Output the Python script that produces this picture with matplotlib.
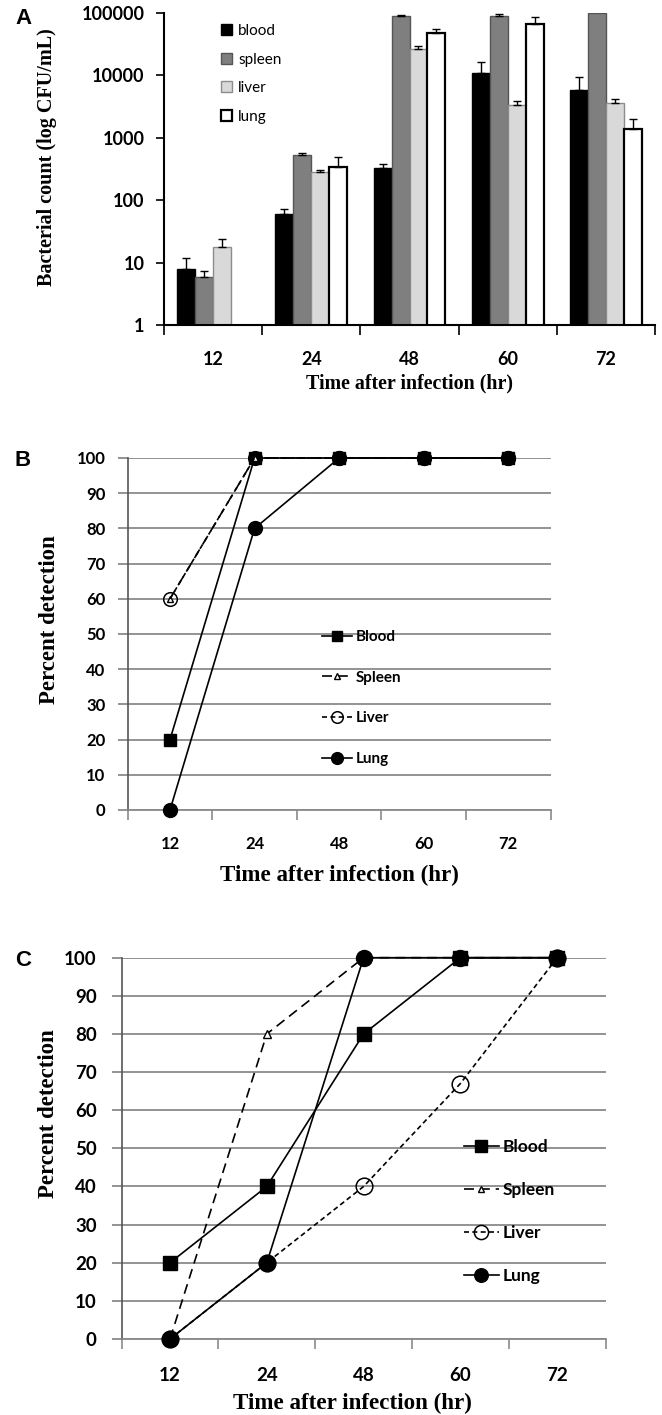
import numpy as np
import matplotlib
matplotlib.use("Agg")
import matplotlib.pyplot as plt
from matplotlib.ticker import FixedLocator, NullLocator, FuncFormatter, FixedFormatter, NullFormatter
from matplotlib.patches import Patch

hours = ["12", "24", "48", "60", "72"]

# panel A - bacterial count (CFU/mL), bar value and top of the error bar
blood_cfu = [7.8, 60, 334, 10900, 5750]
blood_top = [11.7, 72, 378, 16400, 9290]
spleen_cfu = [5.8, 527, 90600, 90600, 100000]
spleen_top = [7.4, 567, 91500, 96400, 100000]
liver_cfu = [18, 285, 26400, 3340, 3640]
liver_top = [23.7, 310, 29900, 3830, 4120]
lung_cfu = [np.nan, 338, 47800, 67400, 1394]
lung_top = [np.nan, 490, 54700, 86300, 2018]

# panel B - percent detection
b_blood = [20, 100, 100, 100, 100]
b_spleen = [60, 100, 100, 100, 100]
b_liver = [60, 100, 100, 100, 100]
b_lung = [0, 80, 100, 100, 100]

# panel C - percent detection
c_blood = [20, 40, 80, 100, 100]
c_spleen = [0, 80, 100, 100, 100]
c_liver = [0, 20, 40, 67, 100]
c_lung = [0, 20, 100, 100, 100]

SANS = "Lato"
SERIF = "Liberation Serif"
GRID = "#8a8a8a"

fig = plt.figure(figsize=(6.62, 14.15), dpi=100)
W, H = 662.0, 1415.0


def px_axes(left, top, right, bottom):
    return fig.add_axes([left / W, 1 - bottom / H, (right - left) / W, (bottom - top) / H])


def category_axis(ax, labelsize, pad, color):
    x = np.arange(len(hours))
    ax.set_xlim(-0.5, len(hours) - 0.5)
    ax.xaxis.set_major_locator(FixedLocator(np.arange(len(hours) + 1) - 0.5))
    ax.xaxis.set_major_formatter(NullFormatter())
    ax.xaxis.set_minor_locator(FixedLocator(x))
    ax.xaxis.set_minor_formatter(FixedFormatter(hours))
    ax.tick_params(axis="x", which="major", direction="out", length=7, width=1.2, color=color)
    ax.tick_params(axis="x", which="minor", length=0, pad=pad, labelsize=labelsize)
    for lab in ax.get_xticklabels(minor=True):
        lab.set_fontfamily(SANS)
        lab.set_fontweight("bold")


# ---------------- panel A ----------------
axA = px_axes(164, 13, 655, 325)
axA.set_yscale("log")
x = np.arange(len(hours))
w = 0.183
series = [
    ("blood", blood_cfu, blood_top, "black", "black", 1.0),
    ("spleen", spleen_cfu, spleen_top, "#7f7f7f", "#555555", 1.0),
    ("liver", liver_cfu, liver_top, "#d9d9d9", "#8c8c8c", 1.0),
    ("lung", lung_cfu, lung_top, "white", "black", 1.6),
]
handles = []
for i, (name, vals, tops, fc, ec, lw) in enumerate(series):
    vals = np.array(vals, dtype=float)
    tops = np.array(tops, dtype=float)
    xs = x + (i - 1.5) * w
    axA.bar(xs, vals, width=w, color=fc, edgecolor=ec, linewidth=lw, zorder=2)
    err = np.vstack([np.zeros_like(vals), tops - vals])
    ok = ~np.isnan(vals) & (tops > vals)
    axA.errorbar(xs[ok], vals[ok], yerr=err[:, ok], fmt="none", ecolor="black",
                 elinewidth=1.0, capsize=3, capthick=1.0, zorder=3)
    handles.append(Patch(facecolor=fc, edgecolor=ec if name != "lung" else "black", linewidth=lw, label=name))

axA.set_ylim(1, 100000)
axA.yaxis.set_major_locator(FixedLocator([1, 10, 100, 1000, 10000, 100000]))
axA.yaxis.set_major_formatter(FuncFormatter(lambda v, p: f"{v:.0f}"))
axA.yaxis.set_minor_locator(NullLocator())
axA.tick_params(axis="y", direction="out", length=6, width=1.2, pad=8, labelsize=13)
for lab in axA.get_yticklabels():
    lab.set_fontfamily(SANS)
    lab.set_fontweight("bold")
category_axis(axA, 13, 19, "black")
for s in ["top", "right"]:
    axA.spines[s].set_visible(False)
for s in ["left", "bottom"]:
    axA.spines[s].set_linewidth(1.5)

axA.set_ylabel("Bacterial count (log CFU/mL)", fontfamily=SERIF, fontweight="bold", fontsize=14.5, va="center")
axA.yaxis.set_label_coords(-0.238, 0.538)
axA.set_xlabel("Time after infection (hr)", fontfamily=SERIF, fontweight="bold", fontsize=14.4, va="center")
axA.xaxis.set_label_coords(0.499, -0.186)
axA.legend(handles=handles, loc="center left", bbox_to_anchor=(0.116, 0.805), frameon=False,
           borderpad=0, borderaxespad=0, handlelength=0.72, handleheight=0.72,
           handletextpad=0.4, labelspacing=0.95, prop={"family": SANS, "size": 11})


# ---------------- panels B and C ----------------
def percent_panel(ax, data, tick_size, ytick_pad, xtick_pad, ms_sq, ms_ring, ms_dot,
                  leg_anchor, leg_size, leg_spacing):
    blood, spleen, liver, lung = data
    ax.set_ylim(0, 100)
    ax.set_yticks(np.arange(0, 101, 10))
    ax.yaxis.grid(True, color=GRID, linewidth=1.3, zorder=0)
    ax.set_axisbelow(True)
    ax.tick_params(axis="y", direction="out", length=7, width=1.3, color=GRID,
                   pad=ytick_pad, labelsize=tick_size)
    for lab in ax.get_yticklabels():
        lab.set_fontfamily(SANS)
        lab.set_fontweight("bold")
    category_axis(ax, tick_size, xtick_pad, GRID)
    for s in ["top", "right"]:
        ax.spines[s].set_visible(False)
    ax.spines["left"].set_color("#555555")
    ax.spines["left"].set_linewidth(1.2)
    ax.spines["bottom"].set_color(GRID)
    ax.spines["bottom"].set_linewidth(1.3)

    kw = dict(color="black", linewidth=1.2, clip_on=False, zorder=3)
    ax.plot(x, blood, marker="s", markersize=ms_sq, mfc="black", mec="black", label="Blood", **kw)
    ax.plot(x, spleen, marker="^", markersize=ms_sq * 0.55, mfc="white", mec="black",
            linestyle=(0, (6, 3.5)), label="Spleen", **kw)
    ax.plot(x, liver, marker="o", markersize=ms_ring, mfc="none", mec="black", mew=1.1,
            linestyle=(0, (3, 2)), label="Liver", **kw)
    ax.plot(x, lung, marker="o", markersize=ms_dot, mfc="black", mec="black", label="Lung", **kw)

    ax.legend(loc="center left", bbox_to_anchor=leg_anchor, frameon=False,
              borderpad=0, borderaxespad=0, handlelength=2.0, handletextpad=0.25,
              labelspacing=leg_spacing, markerscale=0.85,
              prop={"family": SANS, "weight": "bold", "size": leg_size})


axB = px_axes(127.7, 458, 550.6, 810)
percent_panel(axB, (b_blood, b_spleen, b_liver, b_lung), 12, 9, 19, 8.0, 9.8, 10.0,
              (0.459, 0.318), 11, 1.75)
axB.set_ylabel("Percent detection", fontfamily=SERIF, fontweight="bold", fontsize=16.5, va="center")
axB.yaxis.set_label_coords(-0.186, 0.54)
axB.set_xlabel("Time after infection (hr)", fontfamily=SERIF, fontweight="bold", fontsize=16.6, va="center")
axB.xaxis.set_label_coords(0.5, -0.185)

axC = px_axes(121.6, 957.7, 605.6, 1339)
percent_panel(axC, (c_blood, c_spleen, c_liver, c_lung), 13.5, 11, 20, 10.0, 12.0, 11.5,
              (0.707, 0.334), 12.5, 1.55)
axC.set_ylabel("Percent detection", fontfamily=SERIF, fontweight="bold", fontsize=16.5, va="center")
axC.yaxis.set_label_coords(-0.152, 0.59)
axC.set_xlabel("Time after infection (hr)", fontfamily=SERIF, fontweight="bold", fontsize=16.6, va="center")
axC.xaxis.set_label_coords(0.476, -0.168)

# panel letters
for letter, ypx in [("A", 18), ("B", 460), ("C", 960)]:
    fig.text(15 / W, 1 - ypx / H, letter, fontfamily="Liberation Sans", fontweight="bold",
             fontsize=16, ha="left", va="center")

fig.savefig("out.png", dpi=100)
